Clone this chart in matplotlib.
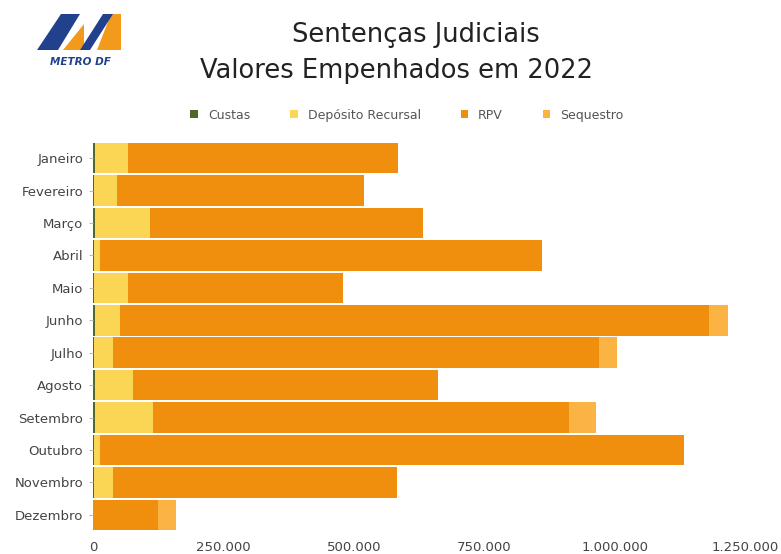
"""Sentenças Judiciais - valores empenhados em 2022, barras empilhadas por mês."""

import matplotlib

matplotlib.use("Agg")
import matplotlib.pyplot as plt  # noqa: E402
from matplotlib.patches import Polygon  # noqa: E402
from matplotlib.ticker import FuncFormatter  # noqa: E402

MONTHS = [
    "Janeiro", "Fevereiro", "Março", "Abril", "Maio", "Junho",
    "Julho", "Agosto", "Setembro", "Outubro", "Novembro", "Dezembro",
]
CUSTAS = [3000, 1500, 3000, 1000, 1000, 3000, 1500, 3000, 4000, 1000, 1000, 0]
DEPOSITO = [64000, 44500, 106000, 12000, 66000, 49000, 36500, 73000, 111000, 12000, 37000, 0]
RPV = [518600, 474300, 524600, 847000, 413000, 1128800, 931600, 584500, 797000, 1119800, 545700, 124800]
SEQUESTRO = [0, 0, 0, 0, 0, 36500, 34600, 0, 51800, 0, 0, 34600]

SERIES = [
    ("Custas", CUSTAS, "#4d6a28"),
    ("Depósito Recursal", DEPOSITO, "#fbd654"),
    ("RPV", RPV, "#f08f0e"),
    ("Sequestro", SEQUESTRO, "#fbb443"),
]
X_TICKS = [0, 250000, 500000, 750000, 1000000, 1250000]

TEXT = "#444444"


def thousands(v, _pos):
    return f"{v:,.0f}".replace(",", ".")


def draw_logo(fig):
    W, H = 781, 554

    def px(points):
        return [(x / W, 1 - y / H) for x, y in points]

    blue = "#21418c"
    orange = "#f39a1c"
    shapes = [
        ([(63, 50), (84, 50), (84, 24)], orange),
        ([(97, 50), (121, 50), (121, 14), (111, 14)], orange),
        ([(37, 50), (58, 50), (80, 14), (61, 14)], blue),
        ([(80, 50), (90, 50), (113, 14), (103, 14)], blue),
    ]
    for pts, color in shapes:
        fig.patches.append(Polygon(px(pts), closed=True, transform=fig.transFigure,
                                   facecolor=color, edgecolor="none"))
    fig.text(80 / W, 1 - 62 / H, "METRO DF", ha="center", va="center",
             fontsize=7.5, fontweight="bold", fontstyle="italic", color=blue,
             family="DejaVu Sans")


def main() -> None:
    fig = plt.figure(figsize=(7.81, 5.54), dpi=100)
    ax = fig.add_axes([93 / 781, 1 - 531 / 554, (745 - 93) / 781, (531 - 142) / 554])

    y = list(range(len(MONTHS)))
    left = [0.0] * len(MONTHS)
    for name, values, color in SERIES:
        ax.barh(y, values, left=left, height=0.94, color=color, label=name,
                edgecolor="none")
        left = [a + b for a, b in zip(left, values)]

    ax.set_ylim(len(MONTHS) - 0.5, -0.5)
    ax.set_xlim(0, 1250000)
    ax.set_yticks(y, MONTHS)
    ax.set_xticks(X_TICKS)
    ax.xaxis.set_major_formatter(FuncFormatter(thousands))
    ax.tick_params(axis="y", length=3, color="#bbbbbb", labelsize=9.5, labelcolor=TEXT, pad=4)
    ax.tick_params(axis="x", length=0, labelsize=9.5, labelcolor=TEXT, pad=7)
    for lbl in ax.get_xticklabels() + ax.get_yticklabels():
        lbl.set_family("DejaVu Sans")
    for side in ("top", "right", "bottom", "left"):
        ax.spines[side].set_visible(False)

    fig.text(416 / 781, 1 - 35 / 554, "Sentenças Judiciais", ha="center", va="center",
             fontsize=18.5, color="#222222", family="DejaVu Sans")
    fig.text(397 / 781, 1 - 71 / 554, "Valores Empenhados em 2022", ha="center",
             va="center", fontsize=18.5, color="#222222", family="DejaVu Sans")

    handles, labels = ax.get_legend_handles_labels()
    fig.legend(handles, labels, loc="center", bbox_to_anchor=(407 / 781, 1 - 115 / 554),
               ncol=4, frameon=False, fontsize=9, labelcolor="#555555",
               handlelength=0.6, handleheight=0.6, handletextpad=0.8, columnspacing=3.2)

    draw_logo(fig)
    fig.savefig("out.png", dpi=100, facecolor="white")
    plt.close(fig)


if __name__ == "__main__":
    main()
